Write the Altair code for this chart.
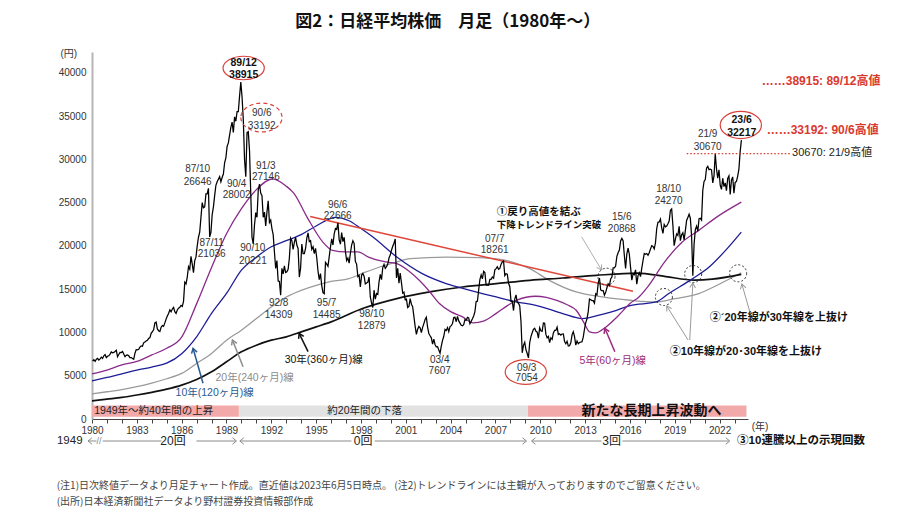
import math
import altair as alt
import pandas as pd

FONT = "Liberation Sans, Noto Sans CJK JP, sans-serif"
JFONT = "Noto Sans CJK JP, sans-serif"

X0, X1 = 1980, 2023.9
Y0, Y1 = 0, 42400
W, H = 656, 367

# ---- monthly Nikkei 225 (approx. monthly values, extremes as annotated) ----
nikkei_monthly = {
    1980: [6700, 6850, 6650, 6900, 7000, 6800, 6950, 7150, 7000, 7300, 7450, 7100],
    1981: [7250, 7300, 7500, 7750, 7650, 7700, 7800, 7950, 7200, 7450, 7700, 7680],
    1982: [7800, 7500, 7200, 7350, 7400, 7300, 7100, 7100, 7000, 6900, 7600, 8016],
    1983: [8000, 8050, 8300, 8450, 8400, 8800, 8900, 9000, 9100, 9300, 9400, 9893],
    1984: [10100, 10300, 11100, 11200, 10400, 10200, 10100, 10600, 10800, 10700, 11100, 11542],
    1985: [11900, 12200, 12600, 12400, 12700, 12900, 12400, 12200, 12600, 12800, 12900, 13113],
    1986: [13000, 13600, 15800, 15600, 16400, 17600, 17300, 18800, 17900, 16900, 18300, 18701],
    1987: [20000, 21000, 21600, 23300, 25000, 24400, 24500, 26000, 26000, 26646, 21036, 21564],
    1988: [23600, 24500, 25800, 27000, 27400, 27700, 28000, 27400, 27900, 28300, 29600, 30159],
    1989: [31500, 31900, 32800, 33700, 34300, 33100, 34900, 34400, 35500, 35500, 37300, 38915],
    1990: [37200, 34600, 29980, 28002, 33100, 33192, 31000, 25980, 20984, 20221, 22450, 23849],
    1991: [23300, 26400, 27146, 26100, 25800, 23300, 23900, 22300, 23900, 25200, 22700, 22984],
    1992: [22000, 21300, 19300, 17400, 18300, 15950, 15900, 14309, 17400, 16770, 17680, 16925],
    1993: [17000, 17300, 18600, 20900, 20600, 19600, 20400, 21000, 20100, 19700, 16400, 17417],
    1994: [20200, 19100, 19100, 19700, 20900, 21500, 20500, 20600, 19600, 19900, 19100, 19723],
    1995: [18600, 17100, 16100, 16800, 15400, 14600, 14485, 18100, 17900, 17650, 18750, 19868],
    1996: [20800, 20100, 21400, 22000, 21900, 22666, 20700, 20200, 21550, 20500, 21000, 19361],
    1997: [18300, 18600, 18000, 19150, 20100, 20600, 20300, 18200, 17900, 16450, 16600, 15259],
    1998: [16600, 16800, 16500, 15600, 15700, 15800, 16400, 14100, 13400, 12879, 14880, 13842],
    1999: [14500, 14400, 15840, 16700, 16100, 17500, 17860, 17400, 17600, 17900, 18600, 18934],
    2000: [19500, 19960, 20300, 20800, 16300, 17400, 15700, 16860, 15750, 14540, 14650, 13786],
    2001: [13840, 12880, 13000, 13900, 13260, 12970, 11860, 10710, 9770, 10370, 10700, 10543],
    2002: [9990, 10590, 11020, 11490, 11760, 10620, 9880, 9620, 9380, 8640, 9220, 8579],
    2003: [8340, 8360, 7970, 7607, 8420, 9080, 9560, 10340, 10220, 10560, 10100, 10677],
    2004: [10780, 11040, 11720, 11760, 11240, 11860, 11330, 11080, 10820, 10770, 10900, 11489],
    2005: [11390, 11740, 11670, 11010, 11280, 11580, 11900, 12410, 13570, 13610, 14870, 16111],
    2006: [16650, 16200, 17060, 16910, 15470, 15500, 15460, 16140, 16130, 16400, 16270, 17226],
    2007: [17380, 17600, 17290, 17400, 17880, 18140, 18261, 16570, 16790, 16740, 15680, 15308],
    2008: [13590, 13600, 12530, 13850, 14340, 13480, 13380, 13070, 11260, 7650, 8512, 8860],
    2009: [7990, 7570, 7054, 8830, 9520, 9960, 10360, 10490, 10130, 10030, 9350, 10546],
    2010: [10200, 10130, 11090, 11060, 9770, 9380, 9540, 8820, 9370, 9200, 9940, 10229],
    2011: [10240, 10620, 9760, 9850, 9690, 9820, 9830, 8960, 8700, 8990, 8430, 8455],
    2012: [8800, 9720, 10080, 9520, 8540, 9010, 8700, 8840, 8870, 8930, 9450, 10395],
    2013: [11140, 11560, 12400, 13860, 13770, 13680, 13670, 13390, 14460, 14330, 15660, 16291],
    2014: [14910, 14840, 14830, 14300, 14630, 15160, 15620, 15420, 16170, 16410, 17460, 17451],
    2015: [17670, 18800, 19210, 19520, 20560, 20868, 20590, 18890, 17390, 19080, 19750, 19034],
    2016: [17520, 16030, 16760, 16670, 17230, 15580, 16570, 16890, 16450, 17430, 18310, 19114],
    2017: [19040, 19120, 18910, 19200, 19650, 20030, 19930, 19650, 20360, 22010, 22720, 22765],
    2018: [23100, 22070, 21450, 22470, 22200, 22300, 22550, 22870, 24120, 24270, 22350, 20015],
    2019: [20770, 21390, 21210, 22260, 20600, 21280, 21520, 20700, 21760, 22930, 23290, 23657],
    2020: [23200, 21140, 16550, 20190, 21880, 22290, 21710, 23140, 23190, 22980, 26430, 27444],
    2021: [27660, 28970, 29180, 28810, 28860, 28790, 27280, 28090, 30670, 28890, 27820, 28792],
    2022: [27000, 26530, 27820, 26850, 27280, 26390, 27800, 28090, 25940, 27590, 27970, 26095],
    2023: [27330, 27450, 28040, 28860, 30890, 32217],
}

# ---- moving averages ----
ma5_t = [1980, 1981, 1982, 1983, 1984, 1985, 1986, 1987, 1988, 1989, 1990, 1991, 1992.1, 1993, 1993.5,
         1994.4, 1995.45, 1996.1, 1997, 1997.8, 1998.5, 1999.5, 2000.4, 2001.2, 2001.9, 2002.6, 2003.25,
         2004.0, 2004.8, 2005.5, 2006.2, 2007.05, 2007.8, 2008.4, 2009.7, 2010.4, 2011.1, 2011.8, 2012.4,
         2012.9, 2013.3, 2013.7, 2014.4, 2015.2, 2016.0, 2016.6, 2017.2, 2018.3, 2019.5, 2020.6, 2021.8, 2023.45]
ma5_v = [5200, 5660, 6240, 6650, 7400, 8170, 9450, 13300, 17500, 21400, 24300, 26500, 27750, 26900, 26100,
         23300, 20440, 19480, 19300, 19300, 18700, 18200, 17950, 17100, 16020, 14700, 13340,
         12400, 11800, 11100, 11300, 12200, 13100, 13700, 14180, 14050, 13700, 13200, 12560,
         11200, 10060, 9950, 10640, 11900, 13340, 14100, 15300, 18100, 20440, 21790, 23320, 25050]

ma10_t = [1980, 1981, 1982, 1983, 1984, 1985, 1986, 1987, 1988, 1989, 1990, 1991, 1992, 1993, 1994, 1995,
          1996.3, 1997.2, 1998, 1998.8, 2000.4, 2002.1, 2003.7, 2005.3, 2007.05, 2008.4, 2009.7, 2011.5,
          2012.8, 2014.15, 2015.1, 2016.0, 2017.75, 2018.6, 2020.2, 2021.3, 2022.4, 2023.45]
ma10_v = [4400, 4800, 5200, 5650, 6000, 6450, 7550, 9500, 12200, 14500, 17200, 18700, 19900, 20600, 21300, 22300,
          23300, 22900, 22000, 21020, 18710, 16790, 15640, 14870, 14100, 13520, 13140, 12180,
          11600, 12100, 12560, 13100, 13520, 14490, 16220, 17560, 19480, 21590]

ma20_t = [1980, 1981, 1982, 1983, 1984, 1985, 1986, 1987, 1988, 1989, 1990, 1991, 1992, 1993, 1994, 1995,
          1996, 1997.2, 1998.2, 1999.25, 2000.3, 2001.3, 2003.7, 2005.95, 2007.7, 2009.3, 2010.6, 2012.4,
          2014.15, 2016, 2017.75, 2019, 2020.6, 2022, 2023.45]
ma20_v = [2900, 3150, 3400, 3730, 4150, 4650, 5270, 6420, 7570, 9100, 10260, 11600, 12950, 14100, 14870, 15450,
          15900, 16220, 16900, 17560, 18100, 18520, 18710, 18640, 18330, 17370, 16020, 14680,
          14100, 13720, 13520, 13900, 14490, 15600, 16900]

ma30_t = [1980, 1981, 1982, 1983, 1984, 1985, 1986, 1987, 1988, 1989, 1990, 1991, 1992, 1993, 1994, 1995,
          1996, 1998.1, 2000.4, 2002.6, 2004.8, 2007.05, 2009.3, 2011.5, 2013.75, 2016.5, 2018.4, 2020.3,
          2021.5, 2023.45]
ma30_v = [2100, 2300, 2500, 2770, 3080, 3450, 3920, 4570, 5460, 6610, 7760, 8530, 9110, 9490, 10060, 10640,
          11220, 12760, 13910, 14680, 15250, 15640, 16020, 16290, 16600, 16850, 16450, 16050,
          16150, 16700]

trend_t = [1994.6, 2016.2]
trend_v = [23400, 14750]

# peak / trough labels
lab_text = ["87/10", "26646", "91/3", "27146", "90/4", "28002", "87/11", "21036", "90/10", "20221",
            "92/8", "14309", "95/7", "14485", "96/6", "22666", "98/10", "12879", "03/4", "7607",
            "07/7", "18261", "09/3", "7054", "15/6", "20868", "18/10", "24270", "21/9", "30670",
            "90/6", "33192"]
lab_x = [1987.07, 1987.07, 1991.63, 1991.63, 1989.68, 1989.68, 1988.01, 1988.01, 1990.76, 1990.76,
         1992.49, 1992.49, 1995.70, 1995.70, 1996.44, 1996.44, 1998.72, 1998.72, 2003.27, 2003.27,
         2006.95, 2006.95, 2009.09, 2009.09, 2015.45, 2015.45, 2018.59, 2018.59, 2021.20, 2021.20,
         1991.36, 1991.36]
lab_y = [28889, 27381, 29229, 27958, 27150, 25879, 20333, 19062, 19756, 18254,
         13401, 12015, 13401, 12015, 24723, 23453, 12131, 10744, 6816, 5545,
         20795, 19525, 5892, 4737, 23337, 21951, 26572, 25186, 32928, 31424,
         35352, 33853]

bold_text = ["89/12", "38915", "23/6", "32217"]
bold_x = [1990.15, 1990.15, 2023.48, 2023.48]
bold_y = [41129, 39742, 34545, 33043]

# ---- helpers ----
xscale = alt.Scale(domain=[X0, X1], nice=False, zero=False)
yscale = alt.Scale(domain=[Y0, Y1], nice=False, zero=False)
xaxis = alt.Axis(values=list(range(1980, 2024)), format="d",
                 labelExpr="datum.value % 3 == 0 ? datum.label : ''",
                 title=None, grid=False, tickSize=4, tickColor="#444", domainColor="#444",
                 labelFontSize=10, labelFont=FONT, labelColor="#333", labelPadding=2,
                 labelOverlap=False, labelFlush=False)
yaxis = alt.Axis(values=list(range(0, 40001, 5000)), format="d", title=None, grid=False, ticks=False,
                 domainColor="#b5b5b5", domainWidth=2, labelFontSize=10, labelFont=FONT,
                 labelColor="#333", labelPadding=6)


def X(f):
    return alt.X(f"{f}:Q", scale=xscale, axis=xaxis)


def Y(f):
    return alt.Y(f"{f}:Q", scale=yscale, axis=yaxis)


def line_layer(ts, vs, color, width, interp="monotone"):
    df = pd.DataFrame({"x": ts, "y": vs})
    return alt.Chart(df).mark_line(color=color, strokeWidth=width, interpolate=interp).encode(x=X("x"), y=Y("y"))


def text_layer(xs, ys, texts, size=10, color="#333", bold=False, align="center", font=FONT):
    df = pd.DataFrame({"x": xs, "y": ys, "text": texts})
    return alt.Chart(df).mark_text(font=font, fontSize=size, color=color,
                                   fontWeight="bold" if bold else "normal",
                                   align=align, baseline="middle").encode(
        x=X("x"), y=Y("y"), text=alt.Text("text:N"))


def rule_layer(x1, y1, x2, y2, color, width=1, dash=None):
    df = pd.DataFrame({"x": x1, "y": y1, "x2": x2, "y2": y2})
    kw = dict(color=color, strokeWidth=width)
    if dash:
        kw["strokeDash"] = dash
    return alt.Chart(df).mark_rule(**kw).encode(x=X("x"), y=Y("y"), x2=alt.X2("x2:Q"), y2=alt.Y2("y2:Q"))


def shape_layer(xs, ys, shape, size, color, width=1.2, dash=None, angles=None):
    df = pd.DataFrame({"x": xs, "y": ys, "ang": angles if angles else [0] * len(xs)})
    kw = dict(shape=shape, size=size, filled=False, stroke=color, strokeWidth=width, opacity=1)
    if dash:
        kw["strokeDash"] = dash
    return alt.Chart(df).mark_point(**kw).encode(x=X("x"), y=Y("y"),
                                                 angle=alt.Angle("ang:Q", scale=None))


def head_angle(x1, y1, x2, y2):
    dx = (x2 - x1) * W / (X1 - X0)
    dy = -(y2 - y1) * H / (Y1 - Y0)
    return math.degrees(math.atan2(dx, -dy)) % 360


TIP = "M -0.6 1 L 0 0 L 0.6 1"
CHEV_R = "M -1 -0.8 L 0 0 L -1 0.8"
CHEV_L = "M 1 -0.8 L 0 0 L 1 0.8"

layers = []

# background bands
band_df = pd.DataFrame({"x": [1980, 1989.83, 2009.18], "x2": [1989.83, 2009.18, 2023.8],
                        "y": [270, 270, 270], "y2": [1560, 1560, 1560],
                        "c": ["#f2a9a9", "#e2e2e2", "#f2a9a9"]})
layers.append(alt.Chart(band_df).mark_rect().encode(
    x=X("x"), x2="x2:Q", y=Y("y"), y2="y2:Q", color=alt.Color("c:N", scale=None)))

# moving averages
layers.append(line_layer(ma20_t, ma20_v, "#9a9a9a", 1.3))
layers.append(line_layer(ma30_t, ma30_v, "#111111", 1.7))
layers.append(line_layer(ma10_t, ma10_v, "#1c1c96", 1.3))
layers.append(line_layer(ma5_t, ma5_v, "#8a2a8a", 1.3))
layers.append(line_layer(trend_t, trend_v, "#e0453a", 1.5, "linear"))

# price
pt, pv = [], []
for yr, vals in nikkei_monthly.items():
    for m, val in enumerate(vals, start=1):
        pt.append(yr + (m - 0.5) / 12)
        pv.append(val)
layers.append(line_layer(pt, pv, "#000000", 1.25, "linear"))

# red dotted 30670 line
layers.append(rule_layer([2019.8], [30670], [2026.75], [30670], "#d93a30", 1.3, [1.5, 2]))

# ellipses
ellipses = [(1990.15, 40550, 0.57, False), (1991.34, 34834, 0.70, True),
            (2009.03, 5430, 0.60, False), (2023.42, 33966, 0.66, False)]
for ex, ey, r, dashed in ellipses:
    path = f"M -1 0 A 1 {r} 0 1 0 1 0 A 1 {r} 0 1 0 -1 0 Z"
    layers.append(shape_layer([ex], [ey], path, 1700, "#d9403a", 1.2, [4, 3] if dashed else None))

# dotted circles
layers.append(shape_layer([2014.43, 2018.27, 2020.23, 2023.24], [16440, 14095, 16752, 16833],
                          "circle", 290, "#333", 1, [2, 2]))

# arrows: (x1, y1, x2(head), y2(head), color, width)
arrows = [
    (1987.43, 4124, 1986.76, 8168, "#2a5a8f", 1.5),
    (1990.11, 6042, 1989.40, 9127, "#8c8c8c", 1.5),
    (1994.46, 7775, 1993.86, 9901, "#111111", 1.5),
    (2014.99, 7775, 2014.32, 10479, "#9b2c7a", 1.5),
    (2012.76, 21061, 2014.10, 17214, "#9a9a9a", 0.8),
    (2019.89, 9127, 2018.46, 13055, "#9a9a9a", 1),
    (2020.00, 9127, 2020.21, 15712, "#9a9a9a", 1),
    (2024.02, 12396, 2023.49, 15597, "#9a9a9a", 1),
]
for x1, y1, x2, y2, col, wd in arrows:
    layers.append(rule_layer([x1], [y1], [x2], [y2], col, wd))
    layers.append(shape_layer([x2], [y2], TIP, 90, col, wd, angles=[head_angle(x1, y1, x2, y2)]))

# labels
layers.append(text_layer(lab_x, lab_y, lab_text, 10, "#333"))
layers.append(text_layer(bold_x, bold_y, bold_text, 10.5, "#111", bold=True))

# MA line names
layers.append(text_layer([1988.21], [3004], ["10年(120ヶ月)線"], 10.5, "#2a5a8f"))
layers.append(text_layer([1990.88], [4737], ["20年(240ヶ月)線"], 10.5, "#8c8c8c"))
layers.append(text_layer([1995.51], [6816], ["30年(360ヶ月)線"], 10.5, "#111"))
layers.append(text_layer([2014.85], [6701], ["5年(60ヶ月)線"], 10.5, "#9b2c7a"))

# bold notes in plot
layers.append(text_layer([2007.09], [23915], ["①戻り高値を結ぶ"],
                         10.5, "#111", bold=True, align="left", font=JFONT))
layers.append(text_layer([2007.09], [22413], ["下降トレンドライン突破"],
                         9.5, "#111", bold=True, align="left", font=JFONT))
layers.append(text_layer([2021.34], [11668], ["②´20年線が30年線を上抜け"], 11, "#111", bold=True, align="left"))
layers.append(text_layer([2018.67], [7740], ["②10年線が20･30年線を上抜け"], 11, "#111", bold=True, align="left"))

# band texts
layers.append(text_layer([1980.15], [924], ["1949年～約40年間の上昇"], 10.5, "#222", align="left"))
layers.append(text_layer([1998.25], [924], ["約20年間の下落"], 10.5, "#222"))
layers.append(text_layer([2017.44], [880], ["新たな長期上昇波動へ"], 14, "#111", bold=True, font=JFONT))

# right-side level notes
layers.append(text_layer([2024.82, 2025.15], [39049, 33388], ["……38915: 89/12高値", "……33192: 90/6高値"],
                         12, "#d93a30", bold=True, align="left"))
layers.append(text_layer([2026.85], [30731], ["30670: 21/9高値"], 11, "#222", align="left"))

# axis unit labels
layers.append(text_layer([1978.45], [42168], ["(円)"], 10, "#333"))
layers.append(text_layer([2024.15], [-924], ["(年)"], 10, "#333", align="left"))

# count row under axis
ROW = -2542
layers.append(text_layer([1978.51], [ROW], ["1949"], 11.5, "#222"))
layers.append(text_layer([1980.47], [ROW], ["//"], 9, "#888"))
layers.append(text_layer([1985.42, 1998.14, 2014.77], [ROW] * 3, ["20回", "0回", "3回"], 12, "#222"))
layers.append(text_layer([2023.17], [ROW], ["③10連騰以上の示現回数"], 11.5, "#111", bold=True, align="left"))
layers.append(rule_layer([1979.8, 1980.72, 1986.99, 1989.95, 1998.92, 2009.45, 2015.5],
                         [ROW] * 7,
                         [1980.3, 1984.65, 1989.62, 1997.36, 2009.03, 2014.1, 2022.62],
                         [ROW] * 7, "#8a8a8a", 1))
layers.append(shape_layer([1989.67, 2009.08, 2022.68], [ROW] * 3, CHEV_R, 64, "#8a8a8a", 1))
layers.append(shape_layer([1979.73, 1989.89, 2009.41], [ROW] * 3, CHEV_L, 64, "#8a8a8a", 1))

# title and footnotes
layers.append(text_layer([2003.81], [45900], ["図2：日経平均株価　月足（1980年～）"], 17, "#111", bold=True, font=JFONT))
layers.append(text_layer([1977.64, 1977.64], [-7750, -9600],
                         ["(注1)日次終値データより月足チャート作成。直近値は2023年6月5日時点。 (注2)トレンドラインには主観が入っておりますのでご留意ください。",
                          "(出所)日本経済新聞社データより野村證券投資情報部作成"],
                         10, "#444", align="left", font=JFONT))

chart = alt.layer(*layers).properties(
    width=W, height=H,
    padding={"left": 84, "top": 44, "right": 164, "bottom": 91},
    autosize=alt.AutoSizeParams(type="none"),
).configure_view(strokeWidth=0)

chart.save("out.html", embed_options={"renderer": "svg", "actions": False})
